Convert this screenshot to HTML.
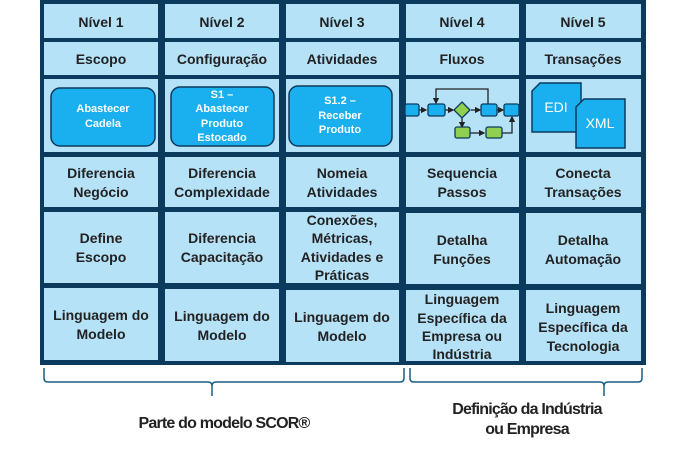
<!DOCTYPE html>
<html><head><meta charset="utf-8"><style>
body{margin:0;background:#fff;width:678px;height:457px;overflow:hidden}
svg text{font-family:"Liberation Sans",sans-serif;font-weight:bold;fill:#222;text-anchor:middle}
</style></head><body>
<svg width="678" height="457" viewBox="0 0 678 457" xmlns="http://www.w3.org/2000/svg">
<defs>
<marker id="a" markerWidth="5" markerHeight="5" refX="4" refY="2.5" orient="auto"><path d="M0,0 L5,2.5 L0,5z" fill="#222"/></marker>
</defs>
<rect x="40" y="0" width="606" height="365" fill="#0b3a5c"/>
<g fill="#b6e2f8">
<rect x="44" y="4" width="114" height="34"/><rect x="165" y="4" width="114" height="34"/><rect x="286" y="4" width="113" height="34"/><rect x="406" y="4" width="113" height="34"/><rect x="526" y="4" width="115" height="34"/>
<rect x="44" y="42" width="114" height="33"/><rect x="165" y="42" width="114" height="33"/><rect x="286" y="42" width="113" height="33"/><rect x="406" y="42" width="113" height="33"/><rect x="526" y="42" width="115" height="33"/>
<rect x="44" y="79" width="114" height="73"/><rect x="165" y="79" width="114" height="73"/><rect x="286" y="79" width="113" height="73"/><rect x="406" y="79" width="113" height="73"/><rect x="526" y="79" width="115" height="73"/>
<rect x="44" y="157" width="114" height="50"/><rect x="165" y="157" width="114" height="50"/><rect x="286" y="157" width="113" height="50"/><rect x="406" y="157" width="113" height="50"/><rect x="526" y="157" width="115" height="50"/>
<rect x="44" y="212" width="114" height="71"/><rect x="165" y="212" width="114" height="71"/><rect x="286" y="212" width="113" height="71"/><rect x="406" y="213" width="113" height="71"/><rect x="526" y="213" width="115" height="71"/>
<rect x="44" y="288" width="114" height="72"/><rect x="165" y="289" width="114" height="72"/><rect x="286" y="290" width="113" height="72"/><rect x="406" y="290" width="113" height="71"/><rect x="526" y="290" width="115" height="71"/>
</g>
<g font-size="14">
<text x="101" y="27">Nível 1</text><text x="222" y="27">Nível 2</text><text x="342" y="27">Nível 3</text><text x="462" y="27">Nível 4</text><text x="583" y="27">Nível 5</text>
<text x="101" y="64">Escopo</text><text x="222" y="64">Configuração</text><text x="342" y="64">Atividades</text><text x="462" y="64">Fluxos</text><text x="583" y="64">Transações</text>
<text x="101" y="178">Diferencia</text><text x="101" y="197">Negócio</text>
<text x="222" y="178">Diferencia</text><text x="222" y="197">Complexidade</text>
<text x="342" y="178">Nomeia</text><text x="342" y="197">Atividades</text>
<text x="462" y="178">Sequencia</text><text x="462" y="197">Passos</text>
<text x="583" y="178">Conecta</text><text x="583" y="197">Transações</text>
<text x="101" y="243">Define</text><text x="101" y="262">Escopo</text>
<text x="222" y="243">Diferencia</text><text x="222" y="262">Capacitação</text>
<text x="342" y="225">Conexões,</text><text x="342" y="243">Métricas,</text><text x="342" y="262">Atividades e</text><text x="342" y="280">Práticas</text>
<text x="462" y="245">Detalha</text><text x="462" y="264">Funções</text>
<text x="583" y="245">Detalha</text><text x="583" y="264">Automação</text>
<text x="101" y="320">Linguagem do</text><text x="101" y="339">Modelo</text>
<text x="222" y="321">Linguagem do</text><text x="222" y="340">Modelo</text>
<text x="342" y="322">Linguagem do</text><text x="342" y="341">Modelo</text>
<text x="462" y="304">Linguagem</text><text x="462" y="323">Específica da</text><text x="462" y="341">Empresa ou</text><text x="462" y="359">Indústria</text>
<text x="583" y="313">Linguagem</text><text x="583" y="332">Específica da</text><text x="583" y="351">Tecnologia</text>
</g>
<g fill="#1ab0f0" stroke="#0b3a5c" stroke-width="1.5">
<rect x="51" y="88" width="104" height="58" rx="9"/>
<rect x="171" y="87" width="103" height="59" rx="9"/>
<rect x="289" y="86" width="103" height="60" rx="9"/>
</g>
<g font-size="11">
<text x="103" y="112" style="fill:#fff">Abastecer</text><text x="103" y="127" style="fill:#fff">Cadela</text>
<text x="222" y="98" style="fill:#fff">S1 –</text><text x="222" y="112" style="fill:#fff">Abastecer</text><text x="222" y="127" style="fill:#fff">Produto</text><text x="222" y="141" style="fill:#fff">Estocado</text>
<text x="340" y="104" style="fill:#fff">S1.2 –</text><text x="340" y="119" style="fill:#fff">Receber</text><text x="340" y="133" style="fill:#fff">Produto</text>
</g>
<g stroke="#222" stroke-width="1.3" fill="none">
<path d="M419,110 H426" marker-end="url(#a)"/>
<path d="M445,110 H453" marker-end="url(#a)"/>
<path d="M471,110 H480" marker-end="url(#a)"/>
<path d="M497,110 H503" marker-end="url(#a)"/>
<path d="M488,104 V89 H436 V103" marker-end="url(#a)"/>
<path d="M462,118 V127" marker-end="url(#a)"/>
<path d="M470,133 H484" marker-end="url(#a)"/>
<path d="M501,133 H512 V117" marker-end="url(#a)"/>
</g>
<g stroke="#0b3a5c" stroke-width="1.3">
<rect x="405" y="104" width="14" height="12" rx="2" fill="#1ab0f0"/>
<rect x="428" y="104" width="17" height="12" rx="2" fill="#1ab0f0"/>
<rect x="481" y="104" width="16" height="12" rx="2" fill="#1ab0f0"/>
<rect x="504" y="104" width="15" height="12" rx="2" fill="#1ab0f0"/>
<path d="M462,102 L470,110 L462,118 L454,110z" fill="#8fd14f"/>
<rect x="455" y="127" width="15" height="11" rx="2" fill="#8fd14f"/>
<rect x="486" y="127" width="16" height="11" rx="2" fill="#8fd14f"/>
</g>
<g stroke="#0b3a5c" stroke-width="1.5" fill="#1ab0f0">
<path d="M540,83 H581 V132 H532 V91z"/>
<path d="M584,99 H625 V148 H576 V107z"/>
</g>
<text x="556" y="112" font-size="14" style="fill:#fff;font-weight:normal">EDI</text>
<text x="600" y="128" font-size="14" style="fill:#fff;font-weight:normal">XML</text>
<g stroke="#1b5f86" stroke-width="1.5" fill="none">
<path d="M44,368 V378 Q44,382 48,382 H208 Q212,382 212,386 V396 M212,386 Q212,382 216,382 H400 Q404,382 404,378 V368"/>
<path d="M410,368 V378 Q410,382 414,382 H600 Q604,382 604,386 V396 M604,386 Q604,382 608,382 H638 Q642,382 642,378 V368"/>
</g>
<g font-size="16" style="letter-spacing:-0.8px">
<text x="224" y="428">Parte do modelo SCOR®</text>
<text x="527" y="414">Definição da Indústria</text>
<text x="527" y="434">ou Empresa</text>
</g>
</svg>
</body></html>
